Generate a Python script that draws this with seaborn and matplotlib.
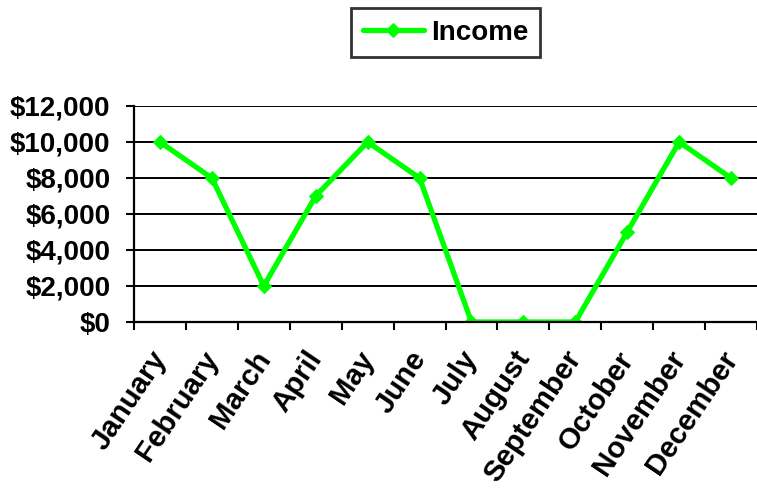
import matplotlib
matplotlib.use("Agg")
import matplotlib.pyplot as plt
import matplotlib.transforms as mtransforms
import seaborn as sns
import pandas as pd
from matplotlib.ticker import FixedLocator, FuncFormatter

months = ["January", "February", "March", "April", "May", "June", "July",
          "August", "September", "October", "November", "December"]
income = [10000, 8000, 2000, 7000, 10000, 8000, 0, 0, 0, 5000, 10000, 8000]
yticks = [0, 2000, 4000, 6000, 8000, 10000, 12000]

sns.set_theme(style="white")
plt.rcParams['font.family'] = ['Liberation Sans', 'DejaVu Sans']
plt.rcParams['text.color'] = 'black'
plt.rcParams['xtick.color'] = 'black'
plt.rcParams['ytick.color'] = 'black'

df = pd.DataFrame({"Month": months, "Income": income, "idx": range(len(months))})

fig = plt.figure(figsize=(7.57, 4.90), dpi=100)
ax = fig.add_axes([134/757, 1-322/490, (757-134)/757, (322-106)/490])

sns.lineplot(data=df, x="idx", y="Income", ax=ax, color="#00FF00", lw=3.8,
             marker="D", markersize=7.5, markeredgecolor="#00FF00", label="Income")

ax.set_xlim(-0.5, len(months) - 0.5)
ax.set_ylim(0, 12000)
ax.yaxis.set_major_locator(FixedLocator(yticks))
ax.yaxis.set_major_formatter(FuncFormatter(lambda v, p: f"${int(v):,}"))
ax.grid(axis="y", color="black", lw=1.4)
ax.set_axisbelow(True)

FS = 20
# category labels at centres, tick marks at boundaries
ax.set_xticks(range(len(months)))
ax.set_xticks([i - 0.5 for i in range(len(months) + 1)], minor=True)
ax.tick_params(axis="x", which="major", length=0, pad=15)
ax.tick_params(axis="x", which="minor", length=6, width=1.5, color="black",
               direction="out", bottom=True)
ax.tick_params(axis="y", length=6, width=1.5, color="black", direction="out",
               left=True, labelsize=FS, pad=11, labelcolor="black")
ax.set_xticklabels(months, rotation=56, ha="right", rotation_mode="anchor",
                   fontsize=21.2, fontweight="bold", color="black")
offset = mtransforms.ScaledTranslation(-11/100, -3/100, fig.dpi_scale_trans)
for lab in ax.get_xticklabels():
    lab.set_transform(lab.get_transform() + offset)
for lab in ax.get_yticklabels():
    lab.set_fontweight("bold")

for s in ["top", "right"]:
    ax.spines[s].set_visible(False)
for s in ["left", "bottom"]:
    ax.spines[s].set_color("black")
    ax.spines[s].set_linewidth(1.6)

ax.set_xlabel("")
ax.set_ylabel("")

leg = ax.legend(loc="center", bbox_to_anchor=(445.5/757, 1-32.5/490),
                bbox_transform=fig.transFigure, frameon=True, fancybox=False,
                prop={"weight": "bold", "size": FS}, handlelength=2.2,
                borderpad=0.42, handletextpad=0.25, borderaxespad=0)
leg.get_frame().set_edgecolor("black")
leg.get_frame().set_linewidth(2)
for t in leg.get_texts():
    t.set_color("black")

fig.savefig("out.png", dpi=100)
